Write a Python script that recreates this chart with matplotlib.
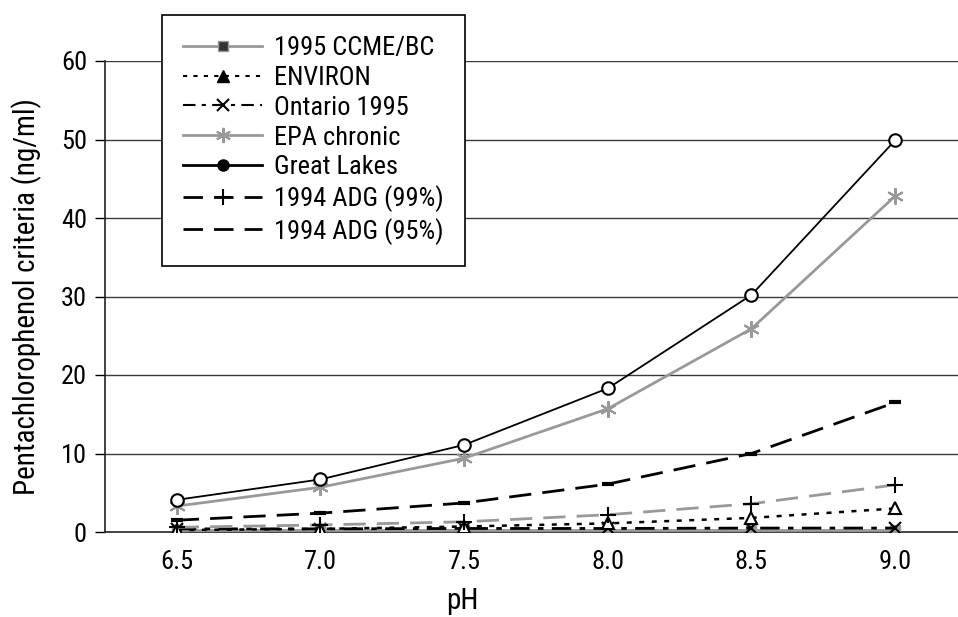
import matplotlib
matplotlib.use("Agg")
import matplotlib.pyplot as plt
from matplotlib.lines import Line2D

plt.rcParams['font.family'] = ['Arial Narrow', 'Roboto Condensed', 'Archivo Narrow', 'DejaVu Sans']

ph_labels = ["6.5", "7.0", "7.5", "8.0", "8.5", "9.0"]

ccme_bc = [0.2, 0.2, 0.2, 0.2, 0.2, 0.2]
environ = [0.25, 0.4, 0.7, 1.1, 1.8, 3.0]
ontario_1995 = [0.4, 0.4, 0.45, 0.45, 0.5, 0.5]
epa_chronic = [3.3, 5.7, 9.4, 15.7, 25.9, 42.8]
great_lakes = [4.1, 6.7, 11.1, 18.3, 30.2, 49.9]
adg_99 = [0.6, 0.9, 1.3, 2.2, 3.6, 6.0]
adg_95 = [1.5, 2.4, 3.7, 6.1, 10.0, 16.5]

y_ticks = [0, 10, 20, 30, 40, 50, 60]

fig = plt.figure(figsize=(9.58, 6.17), dpi=100)
ax = fig.add_axes([105 / 958, 1 - 532 / 617, 862 / 958, 471 / 617])

x = list(range(len(ph_labels)))

# gridlines first
for yv in y_ticks[1:]:
    ax.axhline(yv, color="#3a3a3a", lw=1.0, zorder=0)

ax.plot(x, ccme_bc, color="#999999", lw=2, marker="s", ms=7,
        mfc="#999999", mec="#999999", zorder=3)
ax.plot(x, ontario_1995, color="black", lw=2, dashes=(7, 3, 2, 3),
        marker="x", ms=9, mew=1.5, mec="black", zorder=4)
ax.plot(x, environ, color="black", lw=1.8, dashes=(2, 3),
        marker="^", ms=9, mfc="white", mec="black", mew=1.5, zorder=5)
ax.plot(x, adg_99, color="#999999", lw=2, dashes=(8, 4),
        marker="+", ms=12, mec="black", mew=1.5, zorder=5)
ax.plot(x, adg_95, color="black", lw=2, dashes=(8, 4),
        marker="_", ms=8, mew=3, mec="black", zorder=5)
ax.plot(x, epa_chronic, color="#999999", lw=2, marker=(6, 2, 0), ms=12,
        mec="#999999", mew=1.5, zorder=6)
ax.plot(x, great_lakes, color="black", lw=1.3, marker="o", ms=9,
        mfc="white", mec="black", mew=1.5, zorder=7)

ax.set_xlim(-0.5, len(ph_labels) - 0.5)
ax.set_ylim(0, 60)
ax.set_xticks(x)
ax.set_xticklabels(ph_labels)
ax.set_yticks(y_ticks)
ax.tick_params(axis="x", length=0, labelsize=19, pad=13)
ax.tick_params(axis="y", length=7, width=1, labelsize=19, pad=6)

for s in ["top", "right"]:
    ax.spines[s].set_visible(False)
ax.spines["left"].set_color("#222222")
ax.spines["bottom"].set_color("#222222")
ax.spines["left"].set_linewidth(1.2)
ax.spines["bottom"].set_linewidth(1.2)

fig.text(27 / 958, 1 - 297 / 617, "Pentachlorophenol criteria (ng/ml)",
         rotation=90, ha="center", va="center", fontsize=21)
fig.text(462 / 958, 1 - 601 / 617, "pH", ha="center", va="center", fontsize=21)

# legend handles styled like the original legend box
handles = [
    Line2D([], [], color="#999999", lw=2, marker="s", ms=7, mfc="#333333", mec="#999999"),
    Line2D([], [], color="black", lw=1.5, dashes=(2, 3), marker="^", ms=9, mfc="black", mec="black"),
    Line2D([], [], color="black", lw=1.5, dashes=(6, 3, 2, 3), marker="x", ms=9, mew=1.5, mec="black"),
    Line2D([], [], color="#999999", lw=2, marker=(6, 2, 0), ms=11, mew=1.5, mec="#999999"),
    Line2D([], [], color="black", lw=2, marker="o", ms=8, mfc="black", mec="black"),
    Line2D([], [], color="black", lw=2, dashes=(7, 4), marker="+", ms=11, mew=1.5, mec="black"),
    Line2D([], [], color="black", lw=2, dashes=(7, 4)),
]
names = ["1995 CCME/BC", "ENVIRON", "Ontario 1995", "EPA chronic",
         "Great Lakes", "1994 ADG (99%)", "1994 ADG (95%)"]

leg = fig.legend(handles, names, loc="upper left",
                 bbox_to_anchor=(162 / 958, 1 - 15 / 617),
                 fontsize=19, frameon=True, fancybox=False,
                 handlelength=3.0, handletextpad=0.45, labelspacing=0.22,
                 borderpad=0.8, borderaxespad=0)
leg.get_frame().set_edgecolor("black")
leg.get_frame().set_linewidth(1.2)
leg.get_frame().set_alpha(1)

fig.savefig("out.png", dpi=100)
